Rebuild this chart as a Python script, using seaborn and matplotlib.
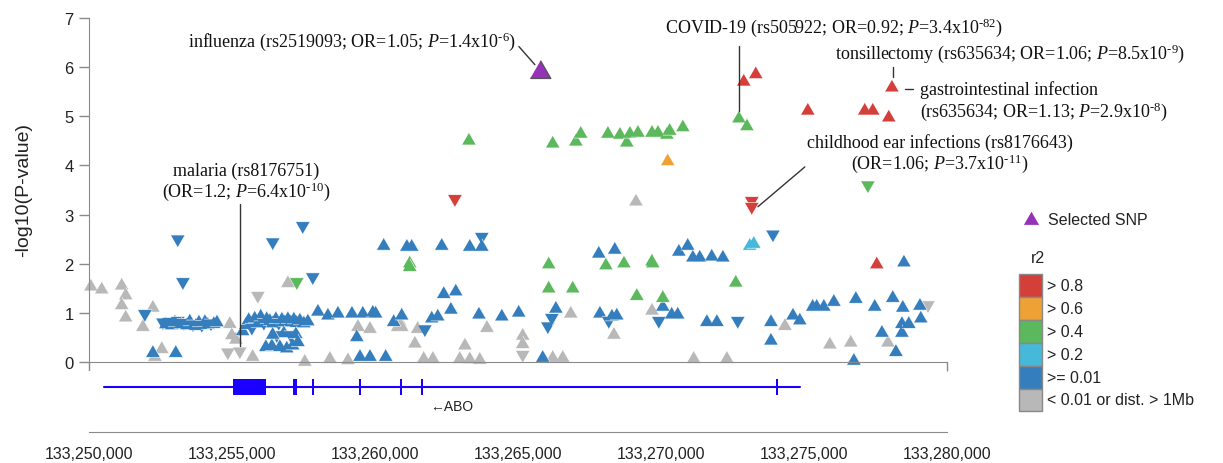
import numpy as np
import pandas as pd
import matplotlib
matplotlib.use("Agg")
import matplotlib.pyplot as plt
from matplotlib.patches import Rectangle
from matplotlib.ticker import FuncFormatter
import seaborn as sns

# SNP positions (kb, chr9) and -log10(P), grouped by LD r2 bin; dir: u = up triangle, d = down triangle
gray_pos = [133250.07, 133250.45, 133251.15, 133251.29, 133251.15, 133251.29, 133251.89, 133252.24, 133252.31, 133252.55,
            133254.93, 133255.00, 133254.86, 133255.28, 133255.14, 133255.73, 133255.91, 133256.96, 133257.55, 133258.43,
            133259.06, 133259.41, 133259.83, 133260.80, 133260.87, 133260.94, 133261.40, 133261.50, 133261.71, 133262.03,
            133262.97, 133263.15, 133263.32, 133263.67, 133263.92, 133265.17, 133265.17, 133265.17, 133266.22, 133266.57,
            133266.85, 133268.36, 133269.13, 133269.69, 133271.15, 133272.31, 133274.34, 133275.91, 133276.64, 133277.94,
            133279.34]
gray_logp = [1.53, 1.47, 1.55, 1.35, 1.15, 0.90, 0.71, 1.10, 0.10, 0.26,
             0.77, 0.54, 0.20, 0.22, 0.45, 0.10, 1.35, 1.60, 0.00, 0.06,
             0.03, 0.71, 0.67, 0.71, 0.82, 0.71, 0.37, 0.67, 0.06, 0.06,
             0.06, 0.33, 0.05, 0.04, 0.69, 0.53, 0.36, 0.15, 0.08, 0.08,
             0.98, 0.55, 3.26, 1.04, 0.06, 0.06, 0.73, 0.35, 0.39, 0.39,
             1.16]
gray_dir = "uuuuu uuuuu uuddu uduuu uuuuu uuuuu uuuuu uuduu uuuuu uuuuu d"

blue_pos = [133251.96, 133252.24, 133252.59, 133253.04, 133253.11, 133253.29, 133252.69, 133252.80, 133252.90, 133253.01,
            133253.11, 133253.22, 133253.32, 133253.43, 133253.53, 133253.64, 133253.74, 133253.85, 133253.95, 133254.06,
            133254.16, 133254.27, 133254.37, 133254.48, 133255.38, 133255.49, 133255.59, 133255.70, 133255.80, 133255.91,
            133256.01, 133256.12, 133256.22, 133256.33, 133256.43, 133256.54, 133256.64, 133256.75, 133256.85, 133256.96,
            133257.06, 133257.17, 133257.27, 133257.38, 133257.52, 133257.66, 133256.19, 133256.40, 133256.57, 133256.68,
            133256.82, 133256.92, 133257.06, 133257.13, 133257.24, 133257.31, 133256.43, 133256.43, 133257.48, 133257.83,
            133258.01, 133258.36, 133258.71, 133259.20, 133259.37, 133259.48, 133259.58, 133259.83, 133259.93, 133260.03,
            133260.31, 133260.38, 133260.66, 133260.94, 133261.12, 133261.29, 133261.75, 133261.99, 133262.20, 133262.34,
            133262.41, 133262.66, 133262.83, 133263.32, 133263.64, 133263.74, 133263.74, 133264.44, 133265.03, 133265.87,
            133266.05, 133266.19, 133266.33, 133267.83, 133267.87, 133268.18, 133268.29, 133268.39, 133268.46, 133269.93,
            133270.07, 133270.38, 133270.59, 133270.63, 133270.94, 133271.12, 133271.36, 133271.61, 133271.78, 133271.96,
            133272.17, 133272.69, 133273.85, 133273.85, 133273.92, 133274.62, 133274.86, 133275.31, 133275.45, 133275.70,
            133276.05, 133276.75, 133276.82, 133277.48, 133277.73, 133278.11, 133278.22, 133278.43, 133278.43, 133278.46,
            133278.50, 133278.67, 133279.06, 133279.09]
blue_logp = [0.98, 0.18, 0.81, 0.18, 2.50, 1.63, 0.76, 0.82, 0.74, 0.80,
             0.84, 0.76, 0.80, 0.74, 0.82, 0.77, 0.73, 0.80, 0.76, 0.81,
             0.75, 0.79, 0.77, 0.80, 0.62, 0.75, 0.85, 0.70, 0.88, 0.78,
             0.92, 0.80, 0.87, 0.83, 0.78, 0.87, 0.80, 0.86, 0.80, 0.87,
             0.80, 0.86, 0.79, 0.84, 0.78, 0.82, 0.30, 0.32, 0.55, 0.30,
             0.58, 0.27, 0.55, 0.33, 0.56, 0.40, 0.55, 2.44, 2.77, 1.73,
             1.02, 0.94, 0.98, 0.98, 0.50, 0.10, 0.98, 0.10, 1.00, 0.98,
             2.36, 0.10, 0.81, 0.94, 2.34, 2.34, 0.67, 0.88, 0.92, 2.36,
             1.38, 1.06, 1.43, 2.34, 0.96, 2.55, 2.34, 0.92, 1.00, 0.08,
             0.73, 0.90, 1.08, 2.20, 0.98, 0.84, 0.92, 2.28, 0.94, 0.84,
             1.12, 0.96, 0.96, 2.24, 2.36, 2.12, 2.12, 0.81, 2.14, 0.81,
             2.12, 0.84, 0.81, 0.43, 2.60, 0.94, 0.84, 1.12, 1.12, 1.12,
             1.22, 0.02, 1.28, 1.12, 0.59, 1.30, 0.20, 0.77, 0.59, 1.10,
             2.02, 0.77, 1.14, 0.88]
blue_dir = ("dudud duduu duduu duudu uduuu uuduu uduuu uduuu uuuuu uuudu "
            "uuduu uuddd uuuuu uuuuu uuuuu uduuu uuuuu duuuu dduuu duuud "
            "uuuuu uuuuu uduud uuuuu uuuuu uuuuu uuuu")

cyan_pos = [133273.11, 133273.25]
cyan_logp = [2.36, 2.40]
cyan_dir = "uu"

green_pos = [133257.27, 133261.22, 133261.22, 133263.29, 133266.08, 133266.08, 133266.22, 133266.92, 133267.03, 133267.20,
             133268.08, 133268.15, 133268.57, 133268.71, 133268.81, 133268.92, 133269.16, 133269.20, 133269.69, 133269.69,
             133269.72, 133269.90, 133270.07, 133270.21, 133270.31, 133270.77, 133272.62, 133272.73, 133273.01, 133277.24]
green_logp = [1.63, 2.00, 1.93, 4.50, 1.98, 1.49, 4.44, 1.49, 4.48, 4.64,
              1.96, 4.64, 4.62, 2.00, 4.46, 4.64, 1.34, 4.66, 4.66, 2.04,
              2.00, 4.66, 1.30, 4.62, 4.70, 4.77, 1.61, 4.95, 4.79, 3.60]
green_dir = "duuuu uuuuu uuuuu uuuuu uuuuu uuuud"

orange_pos = [133270.24]
orange_logp = [4.08]
orange_dir = "u"

red_pos = [133262.80, 133272.90, 133273.18, 133273.18, 133273.32, 133275.14, 133277.13, 133277.41, 133277.55, 133277.97,
           133278.08]
red_logp = [3.32, 5.70, 3.28, 3.16, 5.85, 5.11, 5.11, 5.11, 1.98, 4.97, 5.58]
red_dir = "duddu uuuuu u"

selected_pos = [133265.77]
selected_logp = [5.90]

# ABO gene model (kb)
gene_start, gene_end = 133250.51, 133274.86
exon_start = [133255.02, 133257.13, 133257.79, 133259.44, 133260.87, 133261.60, 133274.03]
exon_end = [133256.18, 133257.27, 133257.87, 133259.52, 133260.95, 133261.69, 133274.10]

r2_colors = {"gray": "#B8B8B8", "blue": "#357EBD", "cyan": "#46B8DA",
             "green": "#5CB85C", "orange": "#EEA236", "red": "#D43F3A"}
legend_bins = ["red", "orange", "green", "cyan", "blue", "gray"]
legend_labels = ["> 0.8", "> 0.6", "> 0.4", "> 0.2", ">= 0.01", "< 0.01 or dist. > 1Mb"]

groups = [("gray", gray_pos, gray_logp, gray_dir), ("blue", blue_pos, blue_logp, blue_dir),
          ("cyan", cyan_pos, cyan_logp, cyan_dir), ("green", green_pos, green_logp, green_dir),
          ("orange", orange_pos, orange_logp, orange_dir), ("red", red_pos, red_logp, red_dir)]
frames = []
for name, pos, logp, dirs in groups:
    frames.append(pd.DataFrame({"pos": np.array(pos) * 1000, "logp": logp, "r2": name,
                                "dir": list(dirs.replace(" ", ""))}))
df = pd.concat(frames, ignore_index=True)

sns.set_style("white")
plt.rcParams["font.family"] = ["Liberation Sans", "DejaVu Sans"]
plt.rcParams["mathtext.fontset"] = "custom"
plt.rcParams["mathtext.rm"] = "Liberation Serif"
plt.rcParams["mathtext.it"] = "Liberation Serif:italic"

W, H = 1223, 464
fig = plt.figure(figsize=(W / 100, H / 100), dpi=100)


def px_axes(x0, y0, x1, y1):
    return fig.add_axes([x0 / W, 1 - y1 / H, (x1 - x0) / W, (y1 - y0) / H])


axis_gray = "#8a8a8a"
xmin, xmax = 133250000, 133280000
tri_up = [(-1, -0.577), (1, -0.577), (0, 1.155)]
tri_down = [(-1, 0.577), (1, 0.577), (0, -1.155)]

# main association panel
ax = px_axes(89, 19, 947, 363)
sns.scatterplot(data=df, x="pos", y="logp", hue="r2", palette=r2_colors, style="dir",
                markers={"u": tri_up, "d": tri_down}, s=140, edgecolor="white", linewidth=0.4,
                legend=False, clip_on=False, ax=ax)
sns.scatterplot(x=np.array(selected_pos) * 1000, y=selected_logp, marker=tri_up, s=290,
                color="#9632B8", edgecolor="#555555", linewidth=1, clip_on=False, zorder=5, ax=ax)
ax.set_xlim(xmin, xmax)
ax.set_ylim(0, 7)
ax.set_yticks(range(8))
ax.set_xticks([])
ax.set_xticks([xmin, xmax], minor=True)
ax.set_xlabel("")
ax.set_ylabel("-log10(P-value)", fontsize=14, color="#222222")
ax.yaxis.set_label_coords(-0.066, 0.503)
for side in ["top", "right"]:
    ax.spines[side].set_visible(False)
for side in ["left", "bottom"]:
    ax.spines[side].set_color(axis_gray)
ax.tick_params(axis="y", length=7.5, width=1, color=axis_gray, labelsize=12, labelcolor="#222222", pad=3.5, left=True)
ax.tick_params(axis="x", which="minor", length=6.5, width=1, color=axis_gray, direction="out", bottom=True)

# annotations
serif = ["Liberation Serif", "DejaVu Serif"]
ann_kw = dict(fontsize=13, family=serif, color="#111111", va="center", clip_on=False)
line_kw = dict(color="#333333", lw=1, clip_on=False)
ax.text(133253460, 6.54, r"influenza (rs2519093; OR=1.05; $\mathit{P}$=1.4x10$^{\text{-6}}$)", **ann_kw)
ax.plot([133265030, 133265590], [6.42, 6.05], **line_kw)
ax.text(133270140, 6.82, r"COVID-19 (rs505922; OR=0.92; $\mathit{P}$=3.4x10$^{\text{-82}}$)", **ann_kw)
ax.plot([133272730, 133272730], [6.44, 5.11], **line_kw)
ax.text(133276080, 6.29, r"tonsillectomy (rs635634; OR=1.06; $\mathit{P}$=8.5x10$^{\text{-9}}$)", **ann_kw)
ax.plot([133278110, 133278110], [6.01, 5.80], **line_kw)
ax.plot([133278530, 133278810], [5.56, 5.56], **line_kw)
ax.text(133279060, 5.56, "gastrointestinal infection", **ann_kw)
ax.text(133279060, 5.11, r"(rs635634; OR=1.13; $\mathit{P}$=2.9x10$^{\text{-8}}$)", **ann_kw)
ax.text(133279760, 4.48, "childhood ear infections (rs8176643)", ha="center", **ann_kw)
ax.text(133279760, 4.05, r"(OR=1.06; $\mathit{P}$=3.7x10$^{\text{-11}}$)", ha="center", **ann_kw)
ax.plot([133275030, 133273390], [3.97, 3.16], **line_kw)
ax.text(133255490, 3.89, "malaria (rs8176751)", ha="center", **ann_kw)
ax.text(133255490, 3.48, r"(OR=1.2; $\mathit{P}$=6.4x10$^{\text{-10}}$)", ha="center", **ann_kw)
ax.plot([133255280, 133255280], [3.22, 0.33], **line_kw)

# gene track + bottom position axis
gax = px_axes(89, 372, 947, 433)
gene_color = "#1a00ff"
gax.plot([gene_start * 1000, gene_end * 1000], [0, 0], color=gene_color, lw=1.5)
gax.bar(np.array(exon_start) * 1000, 2, width=(np.array(exon_end) - np.array(exon_start)) * 1000,
        bottom=-1, align="edge", color=gene_color, linewidth=0)
gax.text((gene_start + gene_end) / 2 * 1000, -2.4, "\u2190ABO", fontsize=10, ha="center", va="center",
         color="#222222")
gax.set_xlim(xmin, xmax)
gax.set_ylim(-5.625, 2.0)
gax.set_yticks([])
gax.set_xticks(range(xmin, xmax + 1, 5000))
gax.set_xticks([xmin, xmax], minor=True)
gax.xaxis.set_major_formatter(FuncFormatter(lambda v, p: f"{int(v):,}"))
for side in ["top", "right", "left"]:
    gax.spines[side].set_visible(False)
gax.spines["bottom"].set_color(axis_gray)
gax.tick_params(axis="x", which="major", length=0, labelsize=11.5, labelcolor="#222222", pad=10, bottom=True)
gax.tick_params(axis="x", which="minor", length=6, width=1, color=axis_gray, direction="in", bottom=True)

# legend
lax = px_axes(1000, 195, 1223, 420)
lax.set_xlim(1000, 1223)
lax.set_ylim(420, 195)
lax.axis("off")
lax.scatter([1031], [221], marker=tri_up, s=160, color="#9632B8", linewidth=0)
lax.text(1048, 221, "Selected SNP", fontsize=11.5, va="center", color="#222222")
lax.text(1038, 259, "r2", fontsize=11.5, ha="center", va="center", color="#222222")
for i, (b, lab) in enumerate(zip(legend_bins, legend_labels)):
    lax.add_patch(Rectangle((1019, 275 + 22.9 * i), 23, 22.9, facecolor=r2_colors[b], edgecolor="#888888", lw=1))
    lax.text(1047, 275 + 22.9 * i + 11.5, lab, fontsize=11.5, va="center", color="#222222")

fig.savefig("out.png", dpi=100)
